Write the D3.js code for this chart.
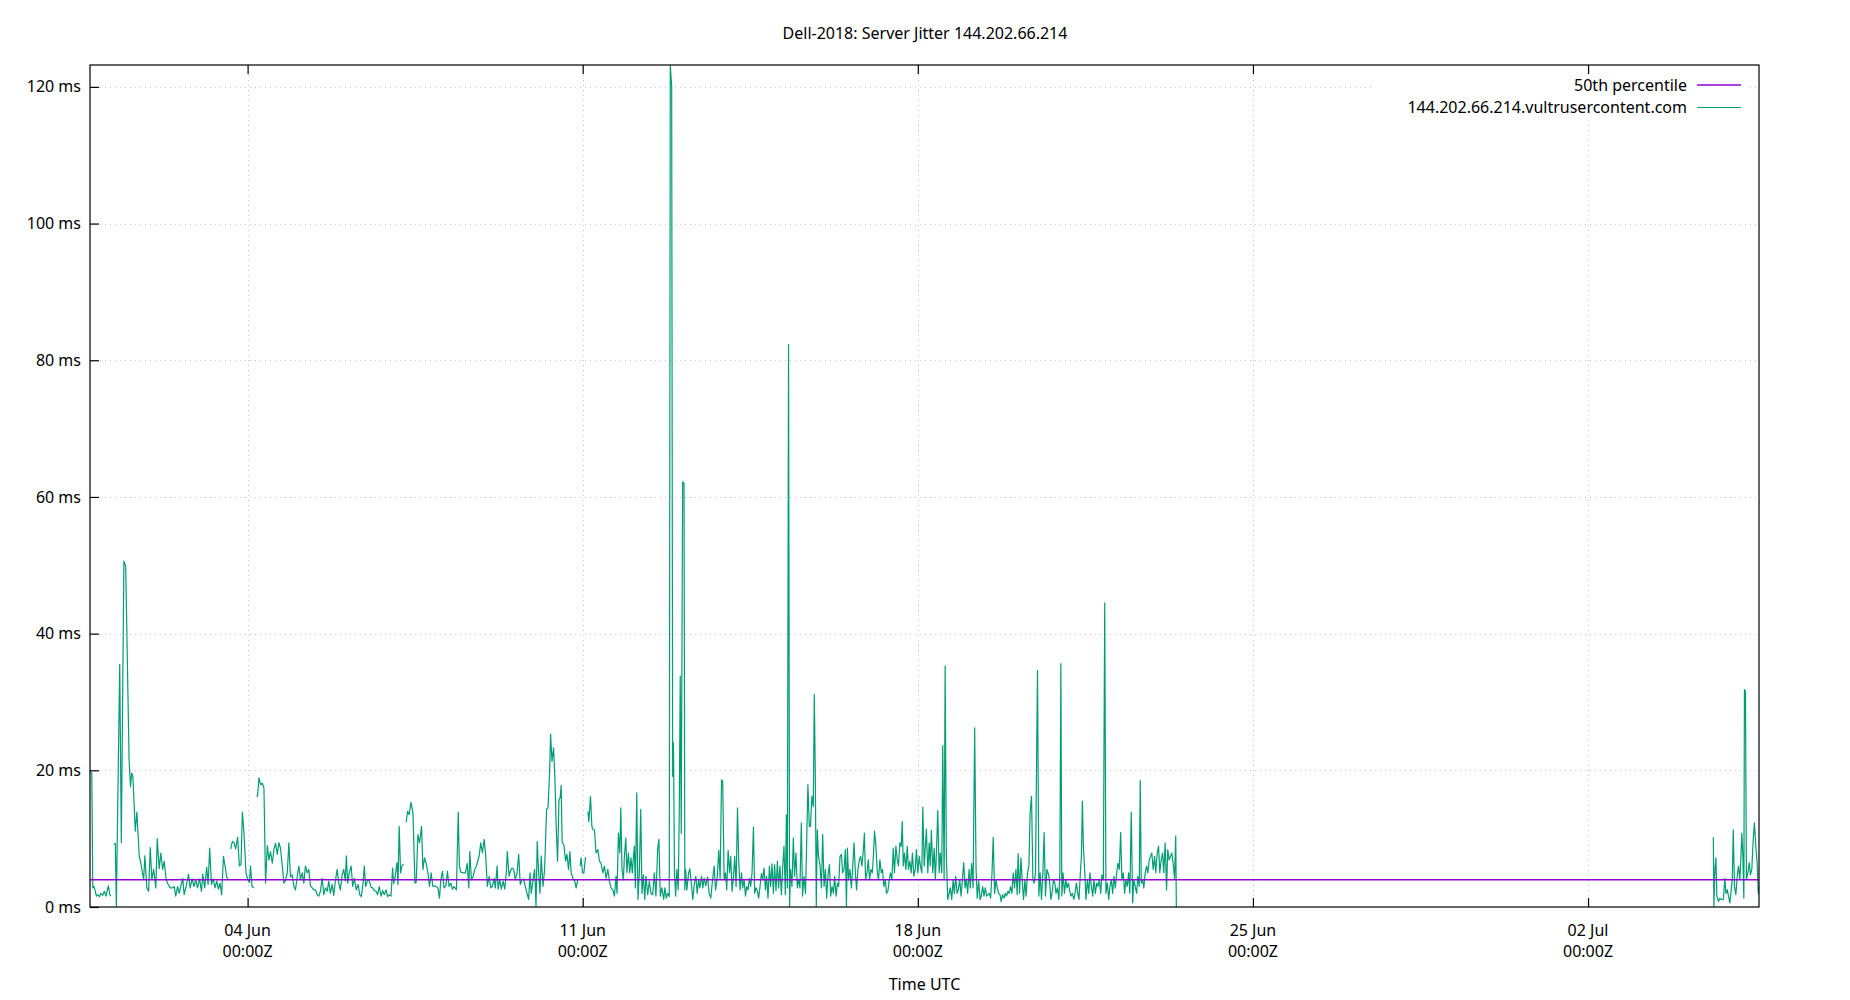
<!DOCTYPE html>
<html><head><meta charset="utf-8">
<script src="https://cdn.jsdelivr.net/npm/d3@7"></script>
<style>
body{margin:0;background:#fff}
text{font-family:"Noto Sans",sans-serif;font-size:16px;fill:#000}
</style>
</head><body>
<svg id="chart" width="1850" height="1000"></svg>
<script>
const chartTitle = "Dell-2018: Server Jitter 144.202.66.214";
const xAxisTitle = "Time UTC";
const seriesName = "144.202.66.214.vultrusercontent.com";
const medianName = "50th percentile";
const medianMs = 4.0;
const startTime = "2018-05-31T17:00:00Z";
const xTickDates = ["2018-06-04T00:00:00Z","2018-06-11T00:00:00Z","2018-06-18T00:00:00Z","2018-06-25T00:00:00Z","2018-07-02T00:00:00Z"];
const yTicks = [0,20,40,60,80,100,120];
// [hours since startTime, jitter ms]; null marks a gap in the data
const jitterPart1 = [[0,19.9],[0.9,19.6],[1.4,2.8],[1.9,3.0],[2.5,2.5],[3.2,1.6],[3.9,1.8],[4.7,1.5],[5.5,2.0],[6.4,1.7],[7.2,2.3],[8.0,1.6],[9.2,3.1],[9.9,1.8],[10.5,1.6],[11.3,null],
[12.0,9.2],[12.7,9.3],[13.2,0.1],[14.9,35.5],[15.7,9.4],[17.0,50.6],[17.9,49.8],[19.6,21.5],[20.3,17.6],[20.9,19.6],[21.5,19.1],[22.7,11.1],[23.5,13.9],[24.7,7.4],[25.5,6.4],[26.9,4.0],[27.5,7.5],[28.5,2.8],[29.4,2.3],[30.2,8.7],[31.0,4.0],[31.9,5.5],[33.0,2.8],[33.7,10.0],[34.7,5.6],[35.5,7.9],[36.4,5.5],[37.2,6.7],[38.2,4.0],[39.2,3.3],[40.2,2.8],[41.4,2.8],[42.2,3.0],[43.0,1.6],[43.9,3.0],[44.7,2.0],[45.5,3.0],[46.5,4.2],[47.2,1.8],[48.2,3.0],[49.4,4.8],[50.2,2.8],[51.2,4.1],[52.2,3.0],[53.0,4.0],[53.9,2.8],[54.9,4.1],[55.9,2.3],[56.5,4.8],[57.5,2.8],[58.5,5.8],[59.2,3.3],[60.0,8.6],[60.9,3.3],[61.7,4.1],[62.7,2.8],[63.5,3.8],[64.4,2.6],[65.2,3.5],[66.0,1.8],[66.9,7.4],[67.7,6.0],[68.5,4.4],[69.2,4.1],[69.8,null],
[70.5,8.5],[71.4,9.6],[72.2,9.4],[73.0,8.5],[74.0,10.2],[74.9,6.0],[75.7,6.2],[76.4,13.9],[77.2,10.8],[78.2,5.0],[79.0,4.1],[79.9,3.6],[80.5,6.0],[81.2,3.0],[82.2,2.8],[82.8,null],
[83.5,16.3],[84.0,16.2],[84.7,18.9],[85.5,17.9],[86.4,18.1],[87.2,17.4],[88.0,3.5],[88.9,9.0],[89.7,6.9],[90.5,8.1],[91.4,6.4],[92.2,8.4],[93.0,9.3],[93.9,7.7],[94.7,9.4],[95.5,8.6],[96.4,6.0],[97.2,3.5],[98.0,3.9],[98.9,5.0],[99.7,9.4],[100.5,4.4],[101.4,4.7],[102.2,3.0],[103.0,2.5],[103.9,4.5],[104.7,6.0],[105.5,4.0],[106.4,5.0],[107.2,3.5],[108.0,6.0],[108.9,5.0],[109.7,5.5],[110.5,3.1],[111.4,2.8],[112.2,2.5],[113.0,2.5],[113.9,1.8],[114.7,1.6],[115.5,2.3],[116.4,4.2],[117.2,1.8],[118.0,2.8],[118.9,2.3],[119.7,3.8],[120.5,2.0],[121.4,3.3],[122.2,1.7],[123.0,3.8],[123.9,5.5],[124.7,3.5],[125.5,2.5],[126.4,4.7],[127.2,5.5],[128.0,3.8],[128.5,7.5],[129.2,3.5],[130.0,5.0],[130.9,6.0],[131.7,3.0],[132.5,4.2],[133.5,2.5],[134.4,3.3],[135.2,1.8],[136.0,1.5],[136.9,3.5],[137.5,6.0],[138.2,3.0],[139.2,4.0],[140.0,3.8],[140.9,2.9],[141.7,2.8],[142.5,2.4],[143.4,2.3],[144.2,1.8],[145.0,3.0],[145.9,1.6],[146.7,2.4],[147.5,1.8],[148.4,2.5],[149.2,1.5],[150.0,1.8],[150.9,1.6],[151.7,5.7],[152.2,3.4],[153.0,4.5],[153.9,6.5],[154.4,3.3],[155.0,11.8],[155.7,5.0],[156.4,6.0],[157.2,6.3],[157.8,null]];
const jitterPart2 = [[158.5,12.4],[159.2,14.0],[160.0,13.5],[160.9,15.3],[161.9,13.8],[162.9,3.5],[163.5,3.6],[164.4,10.6],[165.2,9.4],[166.2,11.8],[166.9,5.5],[167.7,7.2],[168.5,6.4],[169.4,5.0],[170.2,3.0],[171.0,5.0],[171.9,3.0],[172.7,3.1],[173.5,3.0],[174.4,2.8],[175.2,1.3],[175.9,4.0],[176.7,5.2],[177.5,2.8],[178.4,3.1],[179.2,5.2],[180.0,3.0],[180.9,3.5],[181.7,2.6],[182.5,3.0],[183.7,2.5],[184.6,13.9],[185.2,6.0],[185.9,5.1],[187.1,5.0],[188.2,5.0],[189.1,6.4],[189.9,2.8],[190.4,8.1],[191.2,4.0],[192.1,4.5],[192.9,5.5],[193.7,6.0],[195.1,7.5],[195.9,9.4],[196.7,7.9],[197.6,9.9],[198.4,7.4],[199.2,3.0],[200.1,4.5],[200.9,2.8],[201.7,3.0],[202.6,4.2],[203.2,2.8],[204.1,6.0],[204.6,2.6],[205.4,4.0],[206.2,2.6],[207.1,3.8],[207.9,2.6],[208.7,5.0],[209.2,8.1],[210.1,4.5],[210.7,5.2],[211.6,5.7],[212.4,5.5],[213.2,4.0],[214.1,5.0],[214.9,7.7],[215.7,3.3],[216.6,4.0],[217.4,4.1],[218.2,3.0],[219.1,2.0],[219.9,1.1],[220.6,5.0],[221.2,2.0],[222.1,4.0],[222.9,5.5],[223.6,0.1],[224.2,9.6],[224.9,5.0],[225.6,2.0],[226.2,7.5],[227.1,3.0],[227.9,5.5],[228.9,14.3],[229.6,14.5],[230.4,19.6],[230.9,25.3],[231.6,21.3],[232.4,23.3],[233.1,18.6],[233.7,11.8],[234.4,6.7],[235.1,15.7],[235.7,16.0],[236.2,17.8],[236.7,9.5],[237.6,9.0],[238.4,6.7],[239.1,7.7],[239.9,5.5],[240.6,8.1],[241.2,5.0],[242.1,4.2],[242.9,3.9],[243.7,2.8],[244.6,4.1],[245.1,null],
[245.7,6.0],[246.2,7.2],[246.9,5.0],[247.6,5.0],[248.4,7.3],[249.0,null],
[249.6,14.0],[250.1,12.5],[250.9,16.2],[251.6,11.8],[252.2,11.3],[252.9,11.3],[253.7,7.9],[254.6,8.4],[255.4,6.7],[256.2,6.4],[257.1,5.0],[257.9,6.0],[258.7,4.2],[259.6,5.5],[260.4,3.8],[261.2,2.8],[262.1,2.5],[262.9,1.6],[263.7,4.5],[264.2,2.0],[264.9,10.8],[265.6,7.9],[266.1,14.5],[266.7,5.5],[267.4,4.0],[267.9,7.4],[268.6,10.1],[269.2,5.0],[269.9,7.9],[270.6,5.0],[271.2,7.2],[271.9,5.0],[272.4,7.2],[272.9,8.9],[273.4,2.8],[274.1,16.7],[274.7,1.1],[275.4,5.0],[276.1,14.3],[276.7,2.0],[277.4,4.7],[278.1,1.1],[278.7,4.5],[279.6,1.8],[280.4,3.8],[281.2,2.0],[282.1,1.8],[282.9,5.0],[283.7,1.6],[284.6,8.6],[285.2,9.9],[285.9,1.6],[286.7,2.8],[287.6,1.1],[288.2,2.8],[288.9,1.3],[289.6,2.0],[290.4,1.5],[290.9,123.2],[291.6,120.0],[292.1,19.1],[292.5,24.0],[293.0,5.0],[293.6,1.6],[294.2,5.5],[294.9,2.5],[295.4,13.8],[295.9,33.8],[296.4,10.8],[297.1,62.2],[297.8,62.0],[298.2,2.5],[298.6,5.5],[299.2,2.5],[300.1,5.0],[300.7,5.6],[301.6,3.0],[302.2,1.1],[302.9,3.3],[303.7,4.5],[304.4,2.0],[305.1,4.0],[305.7,2.8],[306.6,4.5],[307.2,2.8],[307.9,4.2],[308.7,3.1],[309.6,4.4],[310.4,2.0],[311.2,1.3],[312.1,4.0],[312.9,6.0],[313.6,2.5],[314.4,4.1],[315.2,8.3],[315.9,4.2],[316.6,18.6],[317.2,18.4],[317.9,4.0],[318.6,5.0],[319.2,2.5],[319.9,8.3],[320.6,5.0],[321.2,7.4],[321.9,2.3],[322.6,4.5],[323.2,7.4],[323.9,3.0],[324.6,14.5],[325.2,6.9],[325.9,2.5],[326.6,5.0],[327.2,2.8],[327.9,4.0],[328.6,1.6],[329.2,3.0],[329.9,2.5],[330.6,4.2],[331.2,3.0],[331.9,5.0],[332.6,11.7],[333.2,2.0],[333.9,2.8],[334.6,2.3],[335.2,1.3],[335.9,3.0],[336.6,4.9],[337.2,4.0],[337.9,5.7],[338.6,2.5],[339.2,4.5],[339.9,1.3],[340.6,6.0],[341.2,3.0],[341.9,6.3],[342.6,2.0],[343.2,6.2],[343.9,2.4],[344.6,6.7],[345.2,2.8],[345.9,6.0],[346.6,1.8],[347.2,5.5],[347.9,8.9],[348.6,1.8],[349.1,13.5],[349.6,2.8],[350.2,82.3],[350.7,0.1],[351.2,5.5],[351.9,3.0],[352.6,10.1],[353.2,4.5],[353.9,7.9],[354.6,2.8],[355.2,4.0],[355.9,2.8],[356.6,12.3],[357.2,1.6],[357.9,4.5],[358.7,2.0],[359.2,8.4],[359.9,17.9],[360.6,11.8],[361.2,11.8],[361.9,16.2],[362.6,14.7],[363.1,31.1],[363.6,19.6],[364.1,0.1],[364.6,11.3],[365.2,7.4]];
const jitterPart3 = [[366.0,6.0],[366.7,2.8],[367.3,10.6],[368.0,3.0],[368.7,5.5],[369.3,1.3],[370.0,4.7],[370.7,6.2],[371.3,1.6],[372.0,3.0],[372.7,2.0],[373.3,4.5],[374.0,1.6],[374.7,3.5],[375.3,3.0],[376.0,7.4],[376.7,7.7],[377.3,5.0],[378.0,5.5],[378.7,8.4],[379.2,0.1],[379.7,8.6],[380.3,4.0],[381.0,5.5],[381.7,2.8],[382.3,5.5],[383.0,9.4],[383.7,5.0],[384.3,2.5],[385.0,5.5],[385.7,6.9],[386.3,7.4],[387.0,6.0],[387.7,8.4],[388.2,10.8],[388.8,4.0],[389.5,5.0],[390.2,6.9],[390.8,4.0],[391.5,5.5],[392.2,5.0],[392.8,7.9],[393.3,11.1],[394.0,8.9],[394.7,5.0],[395.3,4.0],[396.0,6.9],[396.7,5.0],[397.3,5.5],[398.0,3.0],[398.7,4.0],[399.3,2.0],[400.0,2.3],[400.7,4.0],[401.3,5.0],[402.0,4.0],[402.7,8.6],[403.3,5.0],[404.0,8.9],[404.7,6.9],[405.3,6.0],[406.0,9.4],[406.7,8.9],[407.2,12.5],[407.7,6.0],[408.3,7.9],[409.0,5.5],[409.7,8.9],[410.3,5.5],[411.0,6.7],[411.7,5.0],[412.3,7.9],[413.0,4.5],[413.7,5.5],[414.3,8.4],[415.0,5.0],[415.7,7.4],[416.3,6.0],[417.0,5.0],[417.5,14.6],[418.2,6.0],[418.8,8.9],[419.3,11.4],[420.0,5.0],[420.7,9.4],[421.2,6.0],[421.8,11.2],[422.5,5.0],[423.2,8.6],[423.8,4.0],[424.5,9.4],[425.0,14.1],[425.7,5.0],[426.3,7.9],[427.0,5.0],[427.5,23.6],[428.2,4.0],[428.7,35.3],[429.3,7.4],[430.0,1.1],[430.7,2.0],[431.3,2.8],[432.0,1.1],[432.7,4.0],[433.3,2.0],[434.0,4.5],[434.7,2.0],[435.3,2.5],[436.0,4.0],[436.7,1.6],[437.3,3.8],[438.0,6.5],[438.7,2.8],[439.3,4.1],[440.0,2.0],[440.7,5.5],[441.3,2.8],[442.0,6.4],[442.7,2.8],[443.5,26.2],[444.2,5.5],[444.8,1.3],[445.5,3.8],[446.2,1.1],[446.8,1.6],[447.5,3.0],[448.2,1.6],[448.8,2.8],[449.5,1.6],[450.2,1.8],[450.8,2.0],[451.5,1.3],[452.2,5.0],[452.8,10.2],[453.5,2.0],[454.2,4.0],[454.8,2.8],[455.5,2.0],[456.2,1.8],[456.8,0.8],[457.5,1.8],[458.2,1.3],[458.8,2.0],[459.5,1.6],[460.2,2.3],[460.8,2.0],[461.5,3.0],[462.2,2.0],[462.8,5.0],[463.5,2.8],[464.2,5.5],[464.8,1.8],[465.3,7.8],[466.0,2.0],[466.7,7.2],[467.3,4.0],[468.0,1.1],[468.7,4.0],[469.3,1.6],[470.0,5.0],[470.7,6.0],[471.3,13.8],[472.0,16.2],[472.7,4.0],[473.3,3.5],[474.0,5.0],[474.5,20.1],[475.0,34.6],[475.7,1.6],[476.3,5.0],[477.0,1.1],[477.7,5.0],[478.3,10.9],[479.0,1.6],[479.7,5.5],[480.3,5.0],[481.0,4.0],[481.7,1.1],[482.3,2.0],[483.0,4.0],[483.7,3.5],[484.3,2.0],[485.0,2.8],[485.7,1.1],[486.2,5.0],[486.7,35.6],[487.2,1.6],[487.8,5.0],[488.5,2.0],[489.2,4.0],[489.8,2.8],[490.5,3.5],[491.2,2.3],[491.8,1.6],[492.5,2.0],[493.2,1.1],[493.8,2.0],[494.5,3.5],[495.2,2.0],[495.8,1.1],[496.5,5.0],[497.0,7.4],[497.5,15.5],[498.0,8.9],[498.7,5.0],[499.3,1.1],[500.0,4.0],[500.7,2.0],[501.3,5.0],[502.0,3.0],[502.7,1.6],[503.3,4.0],[504.0,2.0],[504.7,3.5],[505.3,3.0],[506.0,4.0],[506.7,2.0],[507.3,4.7],[508.0,4.0],[508.7,44.5],[509.3,2.0],[510.0,3.5],[510.7,1.1],[511.3,3.0],[512.0,4.0],[512.7,2.0],[513.3,4.5],[514.0,2.8],[514.7,5.0],[515.3,6.4],[516.0,5.5],[516.7,10.9],[517.3,4.0],[518.0,5.0],[518.7,2.0],[519.3,4.0],[520.0,3.0],[520.7,5.0],[521.3,2.0],[522.0,13.9],[522.7,0.6],[523.3,4.0],[524.0,3.0],[524.7,2.0],[525.3,4.5],[526.0,3.0],[526.5,18.5],[527.0,3.5],[527.7,4.0],[528.3,2.8],[529.0,5.0],[529.7,6.0],[530.3,5.0],[531.0,6.9],[531.7,7.4],[532.3,7.9],[533.0,5.5],[533.7,7.4],[534.3,5.0],[535.0,7.9],[535.7,8.9],[536.3,5.0],[537.0,6.9],[537.7,7.9],[538.3,5.0],[539.0,9.4],[539.7,2.5],[540.3,8.4],[541.0,6.9],[541.7,7.4],[542.3,7.9],[543.0,6.4],[543.7,4.2],[544.3,10.4],[544.6,0],[545.2,null],
[813.8,10.2],[814.1,0.1],[814.6,5.5],[815.1,7.2],[815.6,1.6],[816.4,0.8],[817.1,1.3],[817.9,1.1],[818.8,1.1],[819.6,4.2],[820.1,2.0],[820.8,2.5],[821.4,1.6],[822.1,0.6],[822.6,2.0],[823.3,4.0],[823.8,11.3],[824.4,3.0],[825.1,1.8],[825.8,4.5],[826.4,6.0],[827.1,4.0],[827.6,7.2],[828.1,10.8],[828.6,7.4],[829.1,1.3],[829.4,31.8],[829.9,31.6],[830.4,4.0],[831.1,5.0],[831.8,6.5],[832.4,4.7],[833.1,5.5],[833.8,9.9],[834.4,12.3],[835.1,8.9],[835.8,6.4],[836.3,2.0],[836.7,3.0]];

const margin = {left: 90, right: 91, top: 65, bottom: 93};
const W = 1850, H = 1000;
const svg = d3.select("#chart");
const t0 = new Date(startTime).getTime();
const jitter = jitterPart1.concat(jitterPart2, jitterPart3).map(d => ({t: new Date(t0 + d[0] * 3600e3), v: d[1]}));

const x = d3.scaleUtc().domain(d3.extent(jitter, d => d.t)).range([margin.left, W - margin.right]);
const y = d3.scaleLinear().domain([0, d3.max(jitter, d => d.v)]).range([H - margin.bottom, margin.top]);
const xTicks = xTickDates.map(s => new Date(s));
const x0 = margin.left, x1 = W - margin.right, yTop = margin.top, yBot = H - margin.bottom;

// grid
const grid = svg.append("g").attr("stroke", "#c4c4c4").attr("stroke-width", 1).attr("stroke-dasharray", "1,4");
grid.selectAll("line.gy").data(yTicks.filter(d => d > 0)).join("line")
  .attr("x1", x0).attr("x2", x1).attr("y1", d => Math.round(y(d)) + 0.5).attr("y2", d => Math.round(y(d)) + 0.5);
grid.selectAll("line.gx").data(xTicks).join("line")
  .attr("x1", d => Math.round(x(d)) + 0.5).attr("x2", d => Math.round(x(d)) + 0.5).attr("y1", yTop).attr("y2", yBot);

// legend background
svg.append("rect").attr("x", 1375).attr("y", yTop + 1).attr("width", 374).attr("height", 52).attr("fill", "#fff");

svg.append("clipPath").attr("id", "clip").append("rect").attr("x", x0).attr("y", yTop).attr("width", x1 - x0).attr("height", yBot - yTop);
const plot = svg.append("g").attr("clip-path", "url(#clip)");

const line = d3.line().defined(d => d.v != null).x(d => x(d.t)).y(d => y(d.v));
plot.append("path").datum(jitter).attr("d", line).attr("fill", "none").attr("stroke", "#009e73").attr("stroke-width", 1.2).attr("stroke-linejoin", "round");

const medianLine = x.domain().map(t => ({t: t, v: medianMs}));
plot.append("path").datum(medianLine).attr("d", line).attr("fill", "none").attr("stroke", "#9400d3").attr("stroke-width", 1.5);

// border
svg.append("rect").attr("x", x0).attr("y", yTop).attr("width", x1 - x0).attr("height", yBot - yTop)
  .attr("fill", "none").attr("stroke", "#000").attr("stroke-width", 1.2);

// y axis
const yAxis = svg.append("g").attr("transform", `translate(${x0},0)`)
  .call(d3.axisLeft(y).tickValues(yTicks).tickFormat(d => d + " ms").tickSizeInner(-9).tickSizeOuter(0).tickPadding(9));
yAxis.select(".domain").remove();
yAxis.selectAll("line").attr("stroke", "#000").attr("stroke-width", 1.2);
yAxis.selectAll("text").attr("font-family", "Noto Sans").attr("font-size", 16).attr("fill", "#000");

// x axis (bottom and mirrored top ticks)
const xAxis = svg.append("g").attr("transform", `translate(0,${yBot})`)
  .call(d3.axisBottom(x).tickValues(xTicks).tickFormat("").tickSizeInner(-9).tickSizeOuter(0));
xAxis.select(".domain").remove();
xAxis.selectAll("line").attr("stroke", "#000").attr("stroke-width", 1.2);
const xAxisTop = svg.append("g").attr("transform", `translate(0,${yTop})`)
  .call(d3.axisTop(x).tickValues(xTicks).tickFormat("").tickSizeInner(-9).tickSizeOuter(0));
xAxisTop.select(".domain").remove();
xAxisTop.selectAll("line").attr("stroke", "#000").attr("stroke-width", 1.2);

const fmtDay = d3.utcFormat("%d %b"), fmtTime = d3.utcFormat("%H:%MZ");
const xl = svg.append("g");
xl.selectAll("text.d").data(xTicks).join("text").attr("x", d => x(d)).attr("y", 930).attr("dy", "0.35em")
  .attr("text-anchor", "middle").text(d => fmtDay(d));
xl.selectAll("text.t").data(xTicks).join("text").attr("x", d => x(d)).attr("y", 951).attr("dy", "0.35em")
  .attr("text-anchor", "middle").text(d => fmtTime(d));

svg.append("text").attr("x", (x0 + x1) / 2).attr("y", 984).attr("dy", "0.35em").attr("text-anchor", "middle").text(xAxisTitle);
svg.append("text").attr("x", W / 2).attr("y", 33).attr("dy", "0.35em").attr("text-anchor", "middle").text(chartTitle);

// legend
const legendItems = [{name: medianName, color: "#9400d3", w: 1.5}, {name: seriesName, color: "#009e73", w: 1.2}];
const lg = svg.append("g");
legendItems.forEach((it, i) => {
  const cy = 85 + i * 22.5;
  lg.append("text").attr("x", 1687).attr("y", cy).attr("dy", "0.35em").attr("text-anchor", "end").text(it.name);
  lg.append("line").attr("x1", 1697).attr("x2", 1741).attr("y1", cy).attr("y2", cy).attr("stroke", it.color).attr("stroke-width", it.w);
});
</script>
</body></html>
